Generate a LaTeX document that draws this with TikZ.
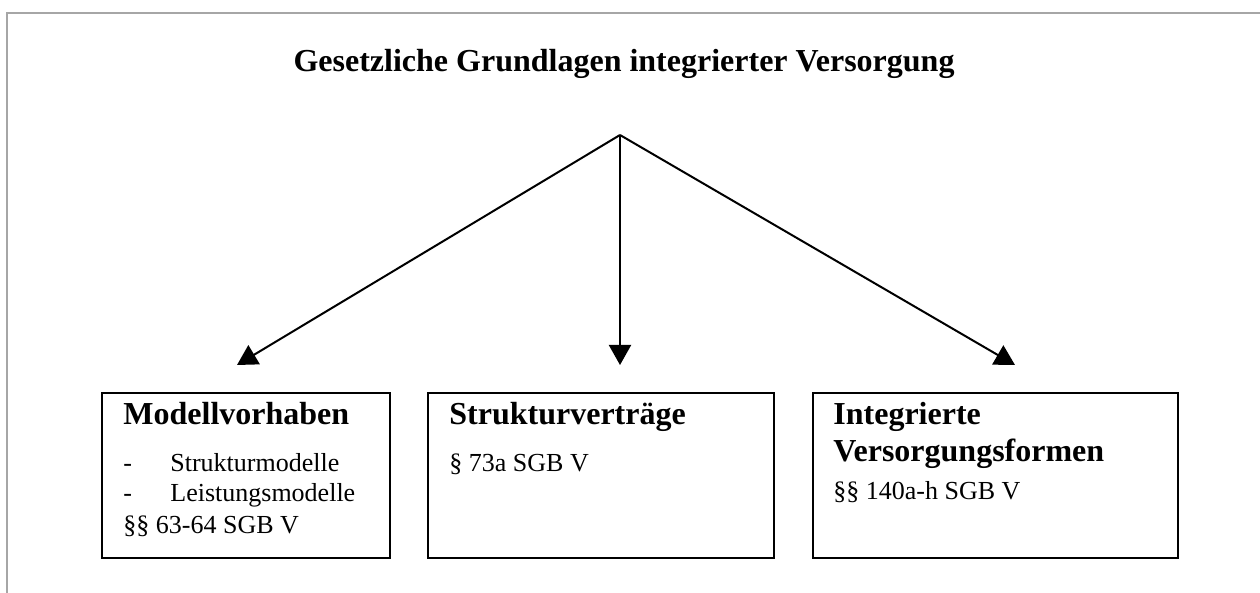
\documentclass[tikz,border=0pt]{standalone}
\usepackage{fontspec}
\setmainfont{Liberation Serif}
\usetikzlibrary{arrows.meta, positioning}
\tikzstyle{lawbox} = [rectangle, draw=black, line width=1pt, anchor=north west, inner sep=0pt]
\tikzstyle{head} = [anchor=base west, inner sep=0pt, font=\fontsize{16}{19}\selectfont\bfseries]
\tikzstyle{body} = [anchor=base west, inner sep=0pt, font=\fontsize{13}{16}\selectfont]
\tikzstyle{arrow} = [line width=1pt, -{Triangle[length=10pt,width=11pt]}]

\begin{document}
\begin{tikzpicture}[x=0.5pt, y=-0.5pt]
\useasboundingbox (0,0) rectangle (1260,593);

% Frame
\draw [gray!70, line width=0.7pt] (7,593) -- (7,13) -- (1260,13);

% Title
\node (title) [anchor=base, inner sep=0pt, font=\fontsize{16}{19}\selectfont\bfseries] at (624,72) {Gesetzliche Grundlagen integrierter Versorgung};

% Boxes
\node (mv) [lawbox, minimum width=144pt, minimum height=82.5pt] at (101,392) {};
\node (sv) [lawbox, minimum width=173pt, minimum height=82.5pt] at (427,392) {};
\node (iv) [lawbox, minimum width=182.5pt, minimum height=82.5pt] at (812,392) {};

% Box texts
\node (mvhead) [head] at (123,425) {Modellvorhaben};
\node (mvdash1) [body] at (123,472) {-};
\node (mvitem1) [body] at (170,472) {Strukturmodelle};
\node (mvdash2) [body] at (123,502) {-};
\node (mvitem2) [body] at (170,502) {Leistungsmodelle};
\node (mvlaw) [body] at (123,533) {§§ 63-64 SGB V};

\node (svhead) [head] at (449,425) {Strukturverträge};
\node (svlaw) [body] at (449,472) {§ 73a SGB V};

\node (ivhead1) [head] at (833,425) {Integrierte};
\node (ivhead2) [head] at (833,462) {Versorgungsformen};
\node (ivlaw) [body] at (833,500) {§§ 140a-h SGB V};

% Arrows
\coordinate (apex) at (620,135);
\coordinate (mvtip) at (237,365);
\coordinate (svtip) at (620,365);
\coordinate (ivtip) at (1015,365);
\draw [arrow] (apex) -- (mvtip);
\draw [arrow] (apex) -- (svtip);
\draw [arrow] (apex) -- (ivtip);

\end{tikzpicture}
\end{document}
